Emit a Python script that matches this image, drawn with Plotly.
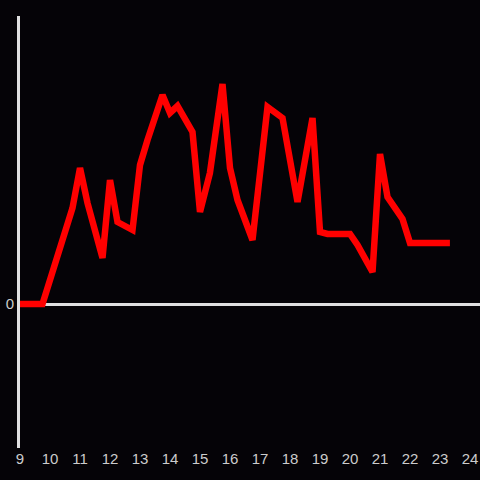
import plotly.graph_objects as go

hours = [9, 9.75, 10.75, 11, 11.25, 11.75, 12, 12.25, 12.75, 13, 13.25, 13.75, 14, 14.25,
         14.75, 15, 15.33, 15.75, 16, 16.25, 16.75, 17.25, 17.75, 18.25, 18.75, 19, 19.25,
         20, 20.25, 20.75, 21, 21.25, 21.75, 22, 23.33]
values = [0, 0, 96, 136, 101, 46, 124, 82, 74, 139, 164, 209, 191, 198,
          172, 92, 131, 220, 136, 104, 64, 197, 186, 102, 186, 72, 70,
          70, 59, 32, 150, 107, 85, 61, 61]
x_ticks = list(range(9, 25))

fig = go.Figure(go.Scatter(x=hours, y=values, mode="lines",
                           line=dict(color="#ff0000", width=6.5)))
fig.update_layout(
    width=480, height=480,
    paper_bgcolor="#050307", plot_bgcolor="#050307",
    margin=dict(l=20, r=0, t=16, b=32, autoexpand=False),
    showlegend=False,
    font=dict(family="Liberation Sans, Arial, sans-serif", size=15, color="#cccccc"),
)
fig.update_xaxes(range=[9, 24.333], tickvals=x_ticks, showgrid=False, zeroline=False,
                 showline=False, ticks="", tickfont=dict(size=15, color="#cccccc"))
fig.update_yaxes(range=[-144, 288], tickvals=[0], showgrid=False, zeroline=True,
                 zerolinecolor="#e0e0e0", zerolinewidth=3, showline=True,
                 linecolor="#e0e0e0", linewidth=3, ticks="",
                 tickfont=dict(size=15, color="#cccccc"))
fig.write_html("out.html", config={"displayModeBar": False},
               post_script="document.body.style.margin='0';document.body.style.background='#050307';")
